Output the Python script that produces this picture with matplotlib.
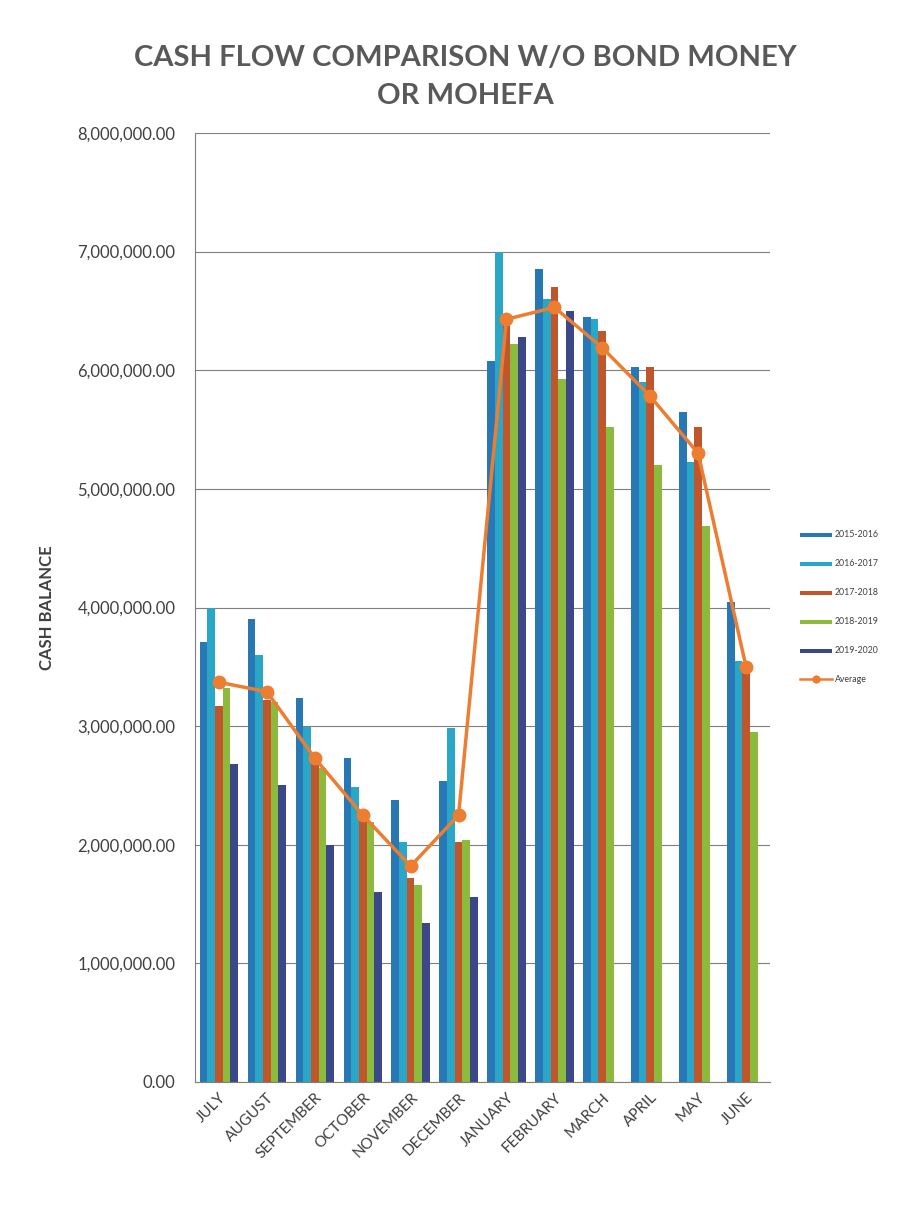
import numpy as np
import matplotlib
matplotlib.use("Agg")
import matplotlib.pyplot as plt
from matplotlib.ticker import FuncFormatter

plt.rcParams['font.family'] = ['Lato', 'DejaVu Sans']

months = ["JULY", "AUGUST", "SEPTEMBER", "OCTOBER", "NOVEMBER", "DECEMBER",
          "JANUARY", "FEBRUARY", "MARCH", "APRIL", "MAY", "JUNE"]
series_names = ["2015-2016", "2016-2017", "2017-2018", "2018-2019", "2019-2020"]
fy2015 = [3710000, 3900000, 3240000, 2730000, 2380000, 2540000, 6080000, 6850000, 6450000, 6030000, 5650000, 4050000]
fy2016 = [4000000, 3600000, 2990000, 2490000, 2020000, 2980000, 7000000, 6600000, 6430000, 5900000, 5230000, 3550000]
fy2017 = [3170000, 3220000, 2690000, 2250000, 1720000, 2020000, 6400000, 6700000, 6330000, 6030000, 5520000, 3450000]
fy2018 = [3320000, 3200000, 2650000, 2190000, 1660000, 2040000, 6220000, 5930000, 5520000, 5200000, 4690000, 2950000]
fy2019 = [2680000, 2500000, 2000000, 1600000, 1340000, 1560000, 6280000, 6500000, np.nan, np.nan, np.nan, np.nan]
average = [3370000, 3290000, 2730000, 2250000, 1820000, 2250000, 6430000, 6530000, 6190000, 5780000, 5300000, 3500000]

colors = ["#2878b5", "#2aa7c6", "#c0562c", "#8cba3c", "#3a4888"]
avg_color = "#ed7d31"

fig = plt.figure(figsize=(8.97, 12.07), dpi=100)
ax = fig.add_axes([195/897, 1-1082/1207, (770-195)/897, (1082-133)/1207])

data = [fy2015, fy2016, fy2017, fy2018, fy2019]
x = np.arange(len(months))
n = len(data)
group = 0.8
w = group / n
handles = []
for i, (vals, c, name) in enumerate(zip(data, colors, series_names)):
    b = ax.bar(x - group/2 + w*(i+0.5), vals, width=w, color=c, label=name, zorder=2)
    handles.append(b)
ln, = ax.plot(x, average, color=avg_color, lw=2.5, marker='o', ms=9, label="Average", zorder=3)
handles.append(ln)

ax.set_ylim(0, 8000000)
ax.set_xlim(-0.5, len(months)-0.5)
ax.set_yticks(np.arange(0, 8000001, 1000000))
ax.yaxis.set_major_formatter(FuncFormatter(lambda v, p: f"{v:,.2f}"))
ax.grid(axis='y', color='#7f7f7f', lw=0.8, zorder=0)
ax.set_xticks(x)
ax.set_xticklabels(months, rotation=45, ha='right', rotation_mode='anchor', fontsize=11, color='#404040')
ax.tick_params(axis='y', labelsize=12, colors='#404040', length=0, pad=14)
ax.tick_params(axis='x', length=0, pad=6)
for s in ['top', 'right']:
    ax.spines[s].set_visible(False)
ax.spines['left'].set_color('#7f7f7f')
ax.spines['bottom'].set_color('#7f7f7f')

ax.set_ylabel("CASH BALANCE", fontsize=12, fontweight='bold', color='#404040', labelpad=16)

fig.text(465/897, 1-77/1207, "CASH FLOW COMPARISON W/O BOND MONEY\nOR MOHEFA",
         ha='center', va='center', fontsize=21, fontweight='bold', color='#595959',
         linespacing=1.55)

leg = fig.legend(handles=handles, labels=series_names + ["Average"],
                 loc='center left', bbox_to_anchor=(800/897, 1-607/1207), frameon=False,
                 fontsize=6.3, labelspacing=2.3, handlelength=3.6, handletextpad=0.4,
                 borderaxespad=0, borderpad=0)
for t in leg.get_texts():
    t.set_color('#404040')
for h in leg.legend_handles[:5]:
    h.set_height(3)
leg.legend_handles[5].set_markersize(5)
leg.legend_handles[5].set_linewidth(1.8)

fig.savefig("out.png", dpi=100)
